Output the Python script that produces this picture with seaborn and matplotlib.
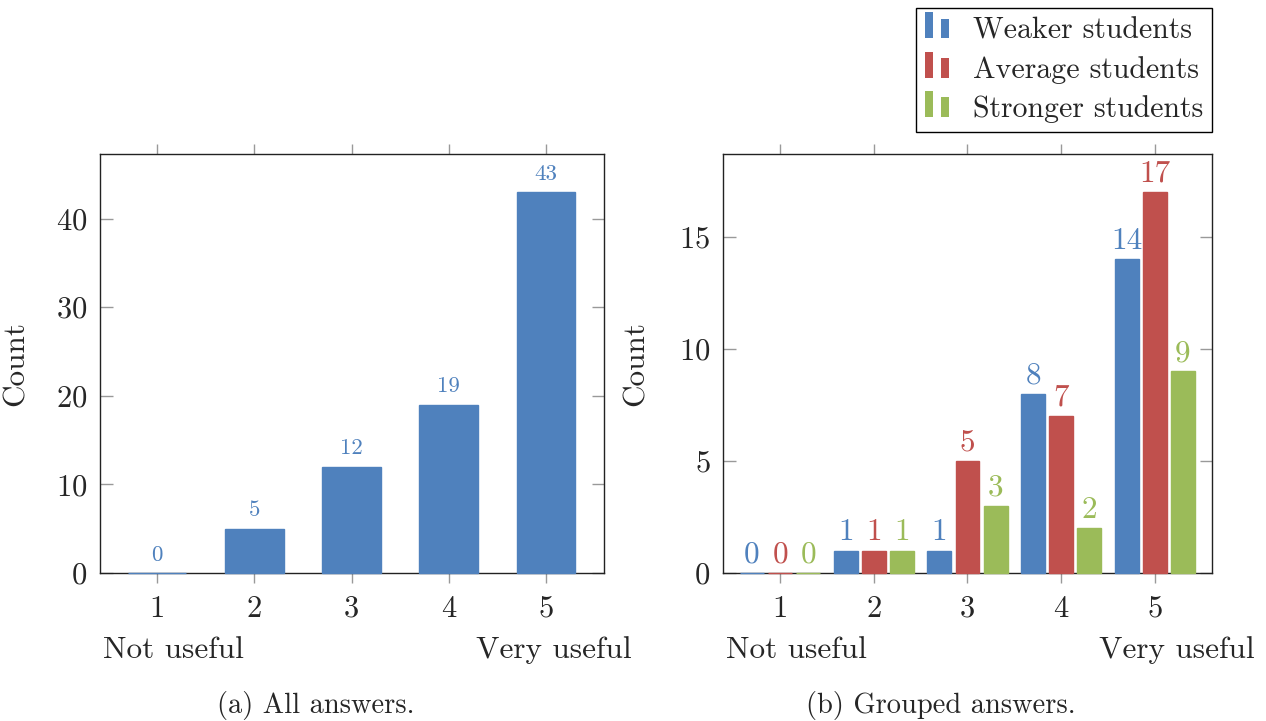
import matplotlib
matplotlib.use('Agg')
import matplotlib.pyplot as plt
from matplotlib.patches import Patch, Rectangle
from matplotlib.legend_handler import HandlerBase
import seaborn as sns
import pandas as pd

# data
ratings = ['1', '2', '3', '4', '5']
all_counts = [0, 5, 12, 19, 43]
groups = ['Weaker students', 'Average students', 'Stronger students']
weaker = [0, 1, 1, 8, 14]
average = [0, 1, 5, 7, 17]
stronger = [0, 1, 3, 2, 9]
colors = ['#4F81BD', '#C0504D', '#9BBB59']

df_all = pd.DataFrame({'rating': ratings, 'count': all_counts})
df_grp = pd.DataFrame({
    'rating': ratings * 3,
    'count': weaker + average + stronger,
    'group': [g for g in groups for _ in ratings],
})

sns.set_style('ticks')
plt.rcParams['font.family'] = ['cmr10', 'DejaVu Serif']
plt.rcParams['mathtext.fontset'] = 'cm'
plt.rcParams['axes.formatter.use_mathtext'] = True

fig = plt.figure(figsize=(12.66, 7.21), dpi=100)
ax1 = fig.add_axes([100 / 1266, 148 / 721, 504 / 1266, 419 / 721])
ax2 = fig.add_axes([723 / 1266, 148 / 721, 489 / 1266, 419 / 721])


class TwoBars(HandlerBase):
    def create_artists(self, legend, orig_handle, xdescent, ydescent,
                       width, height, fontsize, trans):
        c = orig_handle.get_facecolor()
        r1 = Rectangle((-xdescent, -ydescent), width * 0.3, height * 1.25,
                       facecolor=c, edgecolor='none', transform=trans)
        r2 = Rectangle((-xdescent + width * 0.62, -ydescent), width * 0.33, height * 0.95,
                       facecolor=c, edgecolor='none', transform=trans)
        return [r1, r2]


def style_axes(ax):
    for s in ax.spines.values():
        s.set_visible(True)
        s.set_color('#222222')
        s.set_linewidth(1.0)
    ax.tick_params(axis='x', which='both', direction='out', top=True, bottom=True,
                   labeltop=False, color='#999999', length=7, width=1,
                   labelsize=22, pad=9)
    ax.tick_params(axis='y', which='both', direction='in', left=True, right=True,
                   labelright=False, color='#999999', length=9, width=1,
                   labelsize=22, pad=9)
    ax.set_xlabel('')
    ax.set_ylabel('Count', fontsize=22.5)
    ax.text(0.006, -0.185, 'Not useful', transform=ax.transAxes, fontsize=22.5,
            ha='left', va='center')
    # thin outline so zero-height bars still show on the baseline
    for p in ax.patches:
        p.set_edgecolor(p.get_facecolor())
        p.set_linewidth(1.0)
        p.set_zorder(3)
        p.set_clip_on(False)


# (a) all answers
sns.barplot(data=df_all, x='rating', y='count', color=colors[0], width=0.6,
            saturation=1, ax=ax1, edgecolor='none')
ax1.bar_label(ax1.containers[0], color=colors[0], fontsize=16.5, padding=6)
ax1.set_xlim(-0.59, 4.6)
ax1.set_ylim(0, 47.3)
ax1.set_yticks([0, 10, 20, 30, 40])
style_axes(ax1)
ax1.yaxis.set_label_coords(-0.139, 0.5)
ax1.text(1.055, -0.185, 'Very useful', transform=ax1.transAxes, fontsize=22.5,
         ha='right', va='center')

# (b) grouped answers
sns.barplot(data=df_grp, x='rating', y='count', hue='group', palette=colors,
            width=0.9, gap=0.15, saturation=1, ax=ax2, edgecolor='none')
for cont, c in zip(ax2.containers, colors):
    ax2.bar_label(cont, color=c, fontsize=22.5, padding=3)
ax2.set_xlim(-0.61, 4.61)
ax2.set_ylim(0, 18.7)
ax2.set_yticks([0, 5, 10, 15])
style_axes(ax2)
ax2.yaxis.set_label_coords(-0.149, 0.5)
ax2.text(1.088, -0.185, 'Very useful', transform=ax2.transAxes, fontsize=22.5,
         ha='right', va='center')

ax2.get_legend().remove()
handles = [Patch(facecolor=c) for c in colors]
leg = fig.legend(handles, groups, loc='upper right',
                 bbox_to_anchor=(1212 / 1266, 713 / 721), bbox_transform=fig.transFigure,
                 handler_map={Patch: TwoBars()}, fontsize=21.5, frameon=True,
                 fancybox=False, framealpha=1, edgecolor='black', borderaxespad=0,
                 handlelength=0.85, handleheight=0.7, handletextpad=0.75,
                 labelspacing=0.38, borderpad=0.3)
leg.get_frame().set_linewidth(1.0)

fig.text(316 / 1266, 1 - 705 / 721, '(a) All answers.', fontsize=20.5, ha='center', va='center')
fig.text(941 / 1266, 1 - 705 / 721, '(b) Grouped answers.', fontsize=20.5, ha='center', va='center')

fig.savefig('out.png', dpi=100)
